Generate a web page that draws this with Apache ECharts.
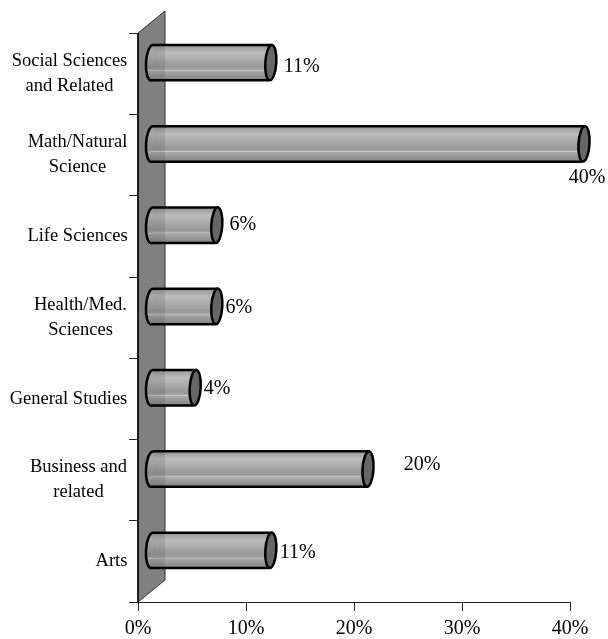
<!DOCTYPE html>
<html>
<head>
<meta charset="utf-8">
<style>
html, body { margin: 0; padding: 0; background: #fff; }
#chart { width: 608px; height: 639px; }
</style>
<script src="https://cdn.jsdelivr.net/npm/echarts@6/dist/echarts.min.js"></script>
</head>
<body>
<div id="chart"></div>
<script>
// bottom to top, same as the axis
const categories = ['Arts', 'Business and\nrelated', 'General Studies', 'Health/Med.\nSciences', 'Life Sciences', 'Math/Natural\nScience', 'Social Sciences\nand Related'];
const shares = [11, 20, 4, 6, 6, 40, 11];
const tickLabels = [0, 10, 20, 30, 40];

// label offset from the end of each cylinder
const labelDx = [27, 54, 22, 22, 26, 3, 31];
const labelDy = [2, -4, 1, 1, 0, 34, 4];
// category labels are right aligned blocks with centered lines
const labelWidths = [31, 97, 117, 93, 99, 99, 115];

const fontFamily = '"Liberation Serif", "Times New Roman", serif';
const depthX = 14, depthY = -11;   // bars sit in the middle of the fake 3d depth
const wallX = 27, wallY = -22;

const chart = echarts.init(document.getElementById('chart'), null, { renderer: 'canvas' });

// the stripes on the cylinder, a little darker where it crosses the wall
function makeStripes(k) {
    const shade = [0x92, 0xa8, 0xbc, 0xab, 0x98, 0xa4, 0xd2, 0xaa, 0x98, 0x84];
    const stops = [0, 0.1, 0.22, 0.42, 0.62, 0.7, 0.715, 0.735, 0.85, 1];
    return new echarts.graphic.LinearGradient(0, 0, 0, 1, stops.map((offset, i) => {
        const c = Math.round(shade[i] * k);
        return { offset: offset, color: 'rgb(' + c + ',' + c + ',' + c + ')' };
    }));
}
const stripes = makeStripes(1);
const stripesDark = makeStripes(0.9);

function renderWall(params, api) {
    const cs = params.coordSys;
    const x = cs.x, top = cs.y, bottom = cs.y + cs.height;
    return {
        type: 'group',
        children: [{
            type: 'polygon',
            shape: { points: [[x, top], [x + wallX, top + wallY], [x + wallX, bottom + wallY], [x, bottom]] },
            style: { fill: '#808080', stroke: '#333', lineWidth: 1 }
        }, {
            type: 'line',
            shape: { x1: x, y1: top, x2: x, y2: bottom },
            style: { stroke: '#000', lineWidth: 1.5 }
        }]
    };
}

function renderBar(params, api) {
    const end = api.coord([api.value(0), api.value(1)]);
    const start = api.coord([0, api.value(1)]);
    const ry = api.size([0, 1])[1] * 0.218;
    const rx = 6;
    const lean = 2;
    const cy = end[1] + depthY;
    const x0 = start[0] + depthX, x1 = end[0] + depthX;
    const edge = params.coordSys.x + wallX;
    const i = params.dataIndex;
    return {
        type: 'group',
        children: [{
            type: 'ellipse',
            shape: { cx: x0, cy: cy, rx: rx, ry: ry },
            originX: x0,
            originY: cy,
            rotation: -0.06,
            style: { fill: stripesDark, stroke: '#000', lineWidth: 2.5 }
        }, {
            type: 'polygon',
            shape: { points: [[x0 + lean, cy - ry], [x1 + lean, cy - ry], [x1 - lean, cy + ry], [x0 - lean, cy + ry]] },
            style: { fill: stripes }
        }, {
            type: 'polygon',
            shape: { points: [[x0 + lean, cy - ry], [edge, cy - ry], [edge, cy + ry], [x0 - lean, cy + ry]] },
            style: { fill: stripesDark }
        }, {
            type: 'line',
            shape: { x1: x0 + lean, y1: cy - ry, x2: x1 + lean, y2: cy - ry },
            style: { stroke: '#000', lineWidth: 2.5 }
        }, {
            type: 'line',
            shape: { x1: x0 - lean, y1: cy + ry, x2: x1 - lean, y2: cy + ry },
            style: { stroke: '#000', lineWidth: 2.5 }
        }, {
            type: 'ellipse',
            shape: { cx: x1, cy: cy, rx: rx - 0.5, ry: ry },
            originX: x1,
            originY: cy,
            rotation: -0.06,
            style: { fill: '#666666', stroke: '#000', lineWidth: 2.5 }
        }, {
            type: 'text',
            style: {
                x: x1 + labelDx[i],
                y: cy + labelDy[i],
                text: api.value(0) + '%',
                fill: '#000',
                font: '20px ' + fontFamily,
                align: 'center',
                verticalAlign: 'middle'
            }
        }]
    };
}

const labelRich = {};
labelWidths.forEach((w, i) => {
    labelRich['c' + i] = { width: w, align: 'center', fontFamily: fontFamily, fontSize: 18.5, lineHeight: 25, color: '#000' };
});

const option = {
    animation: false,
    grid: { left: 138, right: 38, top: 33, bottom: 37 },
    xAxis: {
        type: 'value',
        min: 0,
        max: 40,
        interval: 10,
        splitLine: { show: false },
        axisLine: { show: true, lineStyle: { color: '#222' } },
        axisTick: { show: true, length: 9, lineStyle: { color: '#222' } },
        axisLabel: { margin: 17, color: '#000', fontFamily: fontFamily, fontSize: 20, formatter: v => tickLabels[v / 10] + '%' }
    },
    yAxis: {
        type: 'category',
        data: categories,
        axisLine: { show: true, onZero: false, lineStyle: { color: '#222' } },
        axisTick: { show: true, length: 9, lineStyle: { color: '#222' } },
        axisLabel: {
            margin: 11,
            align: 'right',
            interval: 0,
            rich: labelRich,
            formatter: (v, i) => v.split('\n').map(line => '{c' + i + '|' + line + '}').join('\n')
        }
    },
    series: [{
        type: 'custom',
        renderItem: renderWall,
        data: [[0, 0]],
        encode: { x: 0, y: 1 },
        silent: true,
        z: 1
    }, {
        type: 'custom',
        renderItem: renderBar,
        data: shares.map((v, i) => [v, i]),
        encode: { x: 0, y: 1 },
        z: 2
    }]
};

chart.setOption(option);
</script>
</body>
</html>
